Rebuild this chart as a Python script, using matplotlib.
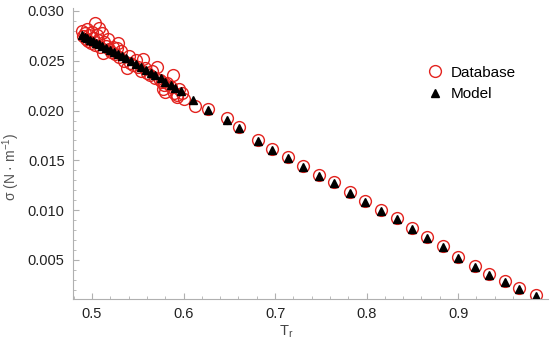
import matplotlib
matplotlib.use('Agg')
import matplotlib.pyplot as plt
from matplotlib.ticker import MultipleLocator, FormatStrFormatter

plt.rcParams['font.family'] = ['Liberation Sans', 'DejaVu Sans']
plt.rcParams['mathtext.fontset'] = 'custom'
plt.rcParams['mathtext.rm'] = 'Liberation Sans'
plt.rcParams['mathtext.it'] = 'Liberation Sans:italic'

# model values (black triangles)
tr_model = [0.489, 0.492, 0.495, 0.498, 0.501, 0.504, 0.508, 0.511, 0.515, 0.520,
            0.524, 0.528, 0.533, 0.537, 0.543, 0.548, 0.554, 0.559, 0.564, 0.569,
            0.575, 0.580, 0.586, 0.591, 0.597, 0.610, 0.627, 0.647, 0.661, 0.681,
            0.697, 0.714, 0.731, 0.748, 0.764, 0.782, 0.798, 0.816, 0.833, 0.850,
            0.866, 0.883, 0.900, 0.918, 0.934, 0.951, 0.967, 0.985]
sig_model = [0.0276, 0.0274, 0.0273, 0.0271, 0.0270, 0.0268, 0.0267, 0.0265, 0.0263, 0.0261,
             0.0259, 0.0257, 0.0255, 0.0253, 0.0250, 0.0247, 0.0244, 0.0241, 0.0238, 0.0236,
             0.0233, 0.0229, 0.0226, 0.0223, 0.0220, 0.0211, 0.0201, 0.0191, 0.0182, 0.0169,
             0.0160, 0.0152, 0.0143, 0.0134, 0.0127, 0.0117, 0.0108, 0.0099, 0.0091, 0.0081,
             0.0072, 0.0063, 0.0052, 0.0043, 0.0035, 0.0028, 0.0021, 0.0014]

# database values (red open circles)
tr_db = [0.489, 0.490, 0.492, 0.493, 0.495, 0.496, 0.497, 0.499, 0.500, 0.501,
         0.503, 0.503, 0.505, 0.506, 0.508, 0.509, 0.511, 0.512, 0.513, 0.515,
         0.517, 0.519, 0.521, 0.523, 0.525, 0.527, 0.528, 0.530, 0.532, 0.535,
         0.538, 0.540, 0.542, 0.545, 0.548, 0.550, 0.553, 0.556, 0.558, 0.560,
         0.563, 0.566, 0.569, 0.571, 0.574, 0.577, 0.578, 0.579, 0.580, 0.582,
         0.586, 0.589, 0.590, 0.593, 0.593, 0.595, 0.598, 0.601, 0.612, 0.627,
         0.647, 0.661, 0.681, 0.697, 0.714, 0.731, 0.748, 0.764, 0.782, 0.798,
         0.816, 0.833, 0.850, 0.866, 0.883, 0.900, 0.918, 0.934, 0.951, 0.967, 0.985]
sig_db = [0.0280, 0.0275, 0.0278, 0.0272, 0.0282, 0.0270, 0.0276, 0.0268, 0.0279, 0.0273,
          0.0288, 0.0266, 0.0276, 0.0271, 0.0283, 0.0264, 0.0278, 0.0258, 0.0269, 0.0265,
          0.0272, 0.0262, 0.0259, 0.0264, 0.0257, 0.0263, 0.0268, 0.0254, 0.0260, 0.0250,
          0.0243, 0.0255, 0.0248, 0.0246, 0.0251, 0.0244, 0.0240, 0.0252, 0.0243, 0.0238,
          0.0236, 0.0240, 0.0233, 0.0244, 0.0231, 0.0229, 0.0222, 0.0226, 0.0219, 0.0228,
          0.0224, 0.0236, 0.0218, 0.0214, 0.0216, 0.0222, 0.0218, 0.0212, 0.0205, 0.0202,
          0.0193, 0.0183, 0.0170, 0.0161, 0.0153, 0.0144, 0.0135, 0.0128, 0.0118, 0.0109,
          0.0100, 0.0092, 0.0082, 0.0073, 0.0064, 0.0053, 0.0044, 0.0036, 0.0029, 0.0022, 0.0015]

fig = plt.figure(figsize=(5.5, 3.44), dpi=100)
ax = fig.add_axes([0.1327, 0.1308, 0.8633, 0.846])

ax.plot(tr_db, sig_db, 'o', mfc='none', mec='#e3231f', mew=1.0, ms=8.5, label='Database')
ax.plot(tr_model, sig_model, '^', color='black', ms=6, label='Model')

ax.set_xlim(0.4792, 0.998)
ax.set_ylim(0.00108, 0.0303)

for s in ['top', 'right']:
    ax.spines[s].set_visible(False)
for s in ['left', 'bottom']:
    ax.spines[s].set_color('#b0b0b0')
    ax.spines[s].set_linewidth(0.8)

ax.xaxis.set_major_locator(MultipleLocator(0.1))
ax.xaxis.set_minor_locator(MultipleLocator(0.02))
ax.yaxis.set_major_locator(MultipleLocator(0.005))
ax.yaxis.set_minor_locator(MultipleLocator(0.001))
ax.xaxis.set_major_formatter(FormatStrFormatter('%.1f'))
ax.yaxis.set_major_formatter(FormatStrFormatter('%.3f'))
ax.tick_params(which='both', direction='in', color='#b0b0b0', labelsize=10.5, labelcolor='#222222')
ax.tick_params(which='major', length=4, width=0.8, pad=6)
ax.tick_params(which='minor', length=2, width=0.6)

ax.set_xlabel(r'T$_\mathrm{r}$', fontsize=10.5, color='#444444')
ax.xaxis.set_label_coords(0.45, -0.085)
ax.set_ylabel(r'σ (N · m$^{-1}$)', fontsize=10, color='#555555')
ax.yaxis.set_label_coords(-0.107, 0.454)

ax.legend(loc='center left', bbox_to_anchor=(0.777, 0.757), bbox_transform=fig.transFigure,
          frameon=False, fontsize=11, handlelength=1, handletextpad=0.5,
          labelspacing=0.5, borderpad=0, borderaxespad=0)

fig.savefig('out.png', dpi=100)
